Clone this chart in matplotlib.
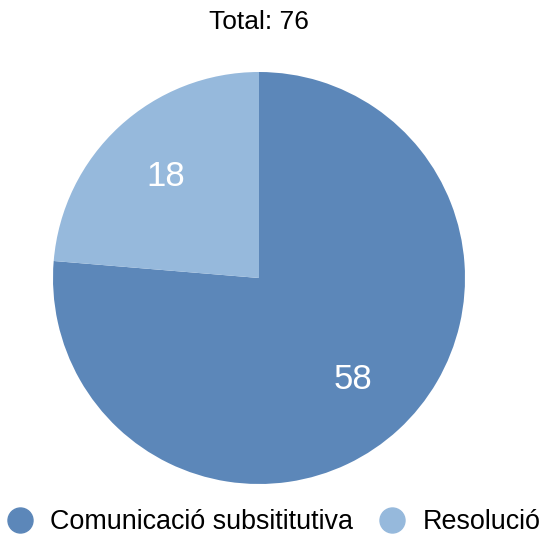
import matplotlib.pyplot as plt
from matplotlib.lines import Line2D

plt.rcParams['font.family'] = ['Liberation Sans', 'DejaVu Sans']

labels = ["Comunicació subsititutiva", "Resolució"]
values = [58, 18]
colors = ["#5c87b9", "#96b9dc"]

fig = plt.figure(figsize=(5.44, 5.38), dpi=100)
W, H = 544, 538
cx, cy, r = 259, 278, 206
ax = fig.add_axes([(cx - r) / W, (H - cy - r) / H, 2 * r / W, 2 * r / H])

ax.pie(values, colors=colors, startangle=90, counterclock=False, radius=1,
       autopct=lambda p: "%d" % round(p * sum(values) / 100), pctdistance=0.67,
       textprops=dict(color="white", fontsize=25),
       wedgeprops=dict(linewidth=0))
ax.set_xlim(-1, 1)
ax.set_ylim(-1, 1)
ax.set_aspect("equal")
ax.axis("off")

fig.text(259 / W, 1 - 22 / H, "Total: %d" % sum(values), ha="center", va="center", fontsize=19)

handles = [Line2D([], [], marker="o", linestyle="", markersize=18, color=c) for c in colors]
fig.legend(handles, labels, loc="center", bbox_to_anchor=(0.5, 1 - 522 / H), ncol=2,
           frameon=False, fontsize=19.4, handletextpad=0.54, columnspacing=0.83,
           handlelength=1.2, borderaxespad=0, borderpad=0)

fig.savefig("out.png", dpi=100)
